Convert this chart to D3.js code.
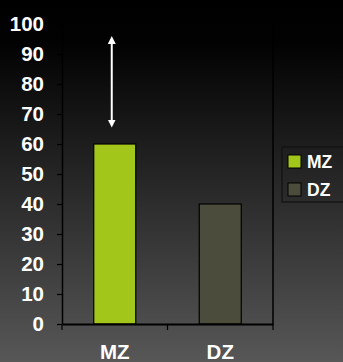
<!DOCTYPE html>
<html>
<head>
<meta charset="utf-8">
<script src="https://cdn.jsdelivr.net/npm/d3@7"></script>
<style>
  html, body { margin: 0; padding: 0; background: #000; }
  svg { display: block; }
</style>
</head>
<body>
<script>
// Concordance by zygosity
const categories = ["MZ", "DZ"];
const values = [60, 40];
const colors = ["#a3c61a", "#4b4c3c"];
const yTicks = [0, 10, 20, 30, 40, 50, 60, 70, 80, 90, 100];
// double-headed arrow span (value units)
const arrowSpan = [65.5, 96];

const W = 343, H = 362;
const margin = { left: 62, right: 70, top: 24, bottom: 38 };

const svg = d3.select("body").append("svg")
  .attr("width", W).attr("height", H);

const defs = svg.append("defs");
const grad = defs.append("linearGradient")
  .attr("id", "bg").attr("x1", 0).attr("y1", 0).attr("x2", 0).attr("y2", 1);
grad.append("stop").attr("offset", "0%").attr("stop-color", "#000000");
grad.append("stop").attr("offset", "12%").attr("stop-color", "#020202");
grad.append("stop").attr("offset", "100%").attr("stop-color", "#575757");

const marker = defs.append("marker")
  .attr("id", "head").attr("viewBox", "0 0 10 10")
  .attr("refX", 5).attr("refY", 5)
  .attr("markerWidth", 4).attr("markerHeight", 4)
  .attr("orient", "auto-start-reverse")
  .attr("markerUnits", "strokeWidth");
marker.append("path").attr("d", "M0,0 L10,5 L0,10 Z").attr("fill", "#ffffff");

svg.append("rect").attr("width", W).attr("height", H).attr("fill", "url(#bg)");

const x = d3.scaleBand().domain(categories)
  .range([margin.left, 273]).paddingInner(0).paddingOuter(0);
const y = d3.scaleLinear().domain([0, 100]).range([324, 24]);

const font = "'Liberation Sans', Arial, sans-serif";

// plot frame: right edge
svg.append("line")
  .attr("x1", 273).attr("x2", 273)
  .attr("y1", y(100)).attr("y2", y(0))
  .attr("stroke", "#000").attr("stroke-width", 1.5);

// bars
const bw = 42;
svg.selectAll("rect.bar").data(categories).join("rect")
  .attr("class", "bar")
  .attr("x", d => x(d) + x.bandwidth() / 2 - bw / 2)
  .attr("y", (d, i) => y(values[i]))
  .attr("width", bw)
  .attr("height", (d, i) => y(0) - y(values[i]))
  .attr("fill", (d, i) => colors[i])
  .attr("stroke", "#000").attr("stroke-width", 1.2);

// y axis
const yAxis = svg.append("g")
  .attr("transform", `translate(${margin.left},0)`)
  .call(d3.axisLeft(y).tickValues(yTicks).tickSize(5).tickPadding(13).tickSizeOuter(0));
yAxis.select(".domain").attr("stroke", "#000").attr("stroke-width", 1.5);
yAxis.selectAll(".tick line").attr("stroke", "#000").attr("stroke-width", 1.2);
yAxis.selectAll(".tick text")
  .attr("fill", "#fff").attr("font-family", font)
  .attr("font-weight", "bold").attr("font-size", 20.5);

// x axis
const xAxis = svg.append("g")
  .attr("transform", `translate(0,${y(0)})`)
  .call(d3.axisBottom(x).tickSize(0).tickPadding(20.5));
xAxis.select(".domain").attr("stroke", "#000").attr("stroke-width", 2.2);
xAxis.selectAll(".tick text")
  .attr("fill", "#fff").attr("font-family", font)
  .attr("font-weight", "bold").attr("font-size", 20.5);
// category separators
const seps = [margin.left, x("DZ"), 273];
xAxis.selectAll("line.sep").data(seps).join("line")
  .attr("class", "sep")
  .attr("x1", d => d).attr("x2", d => d)
  .attr("y1", 0).attr("y2", 6)
  .attr("stroke", "#000").attr("stroke-width", 1.2);

// double-headed arrow over MZ
const ax = x("MZ") + x.bandwidth() / 2 - 3;
svg.append("line")
  .attr("x1", ax).attr("x2", ax)
  .attr("y1", y(arrowSpan[0]) - 4).attr("y2", y(arrowSpan[1]) + 4)
  .attr("stroke", "#ffffff").attr("stroke-width", 2)
  .attr("marker-start", "url(#head)").attr("marker-end", "url(#head)");

// legend
const lg = svg.append("g").attr("transform", "translate(282,147)");
lg.append("rect").attr("width", 64).attr("height", 55)
  .attr("fill", "none").attr("stroke", "#111").attr("stroke-width", 1.2);
categories.forEach((c, i) => {
  const row = lg.append("g").attr("transform", `translate(6,${8 + i * 28})`);
  row.append("rect").attr("width", 13).attr("height", 13)
    .attr("fill", colors[i]).attr("stroke", "#000").attr("stroke-width", 1);
  row.append("text").attr("x", 19).attr("y", 6.5).attr("dy", "0.36em")
    .attr("fill", "#fff").attr("font-family", font)
    .attr("font-weight", "bold").attr("font-size", 17.5).text(c);
});
</script>
</body>
</html>
